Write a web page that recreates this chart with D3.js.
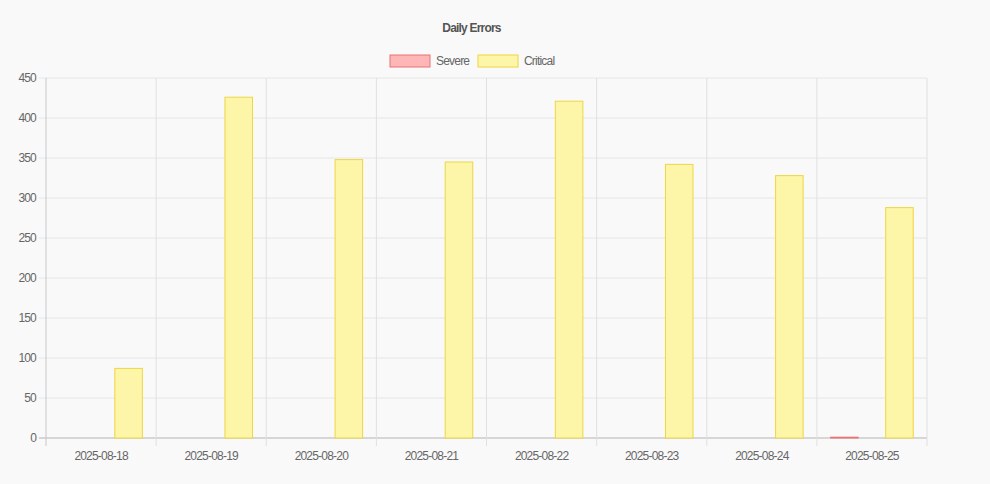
<!DOCTYPE html>
<html>
<head>
<meta charset="utf-8">
<script src="https://cdn.jsdelivr.net/npm/d3@7"></script>
<style>
  body { margin: 0; background: #f9f9f9; }
  svg { display: block; font-family: "Liberation Sans", Arial, sans-serif; }
  .tick text { fill: #666; font-size: 12px; letter-spacing: -0.8px; }
</style>
</head>
<body>
<div id="chart"></div>
<script>
// chart data
var dates = ["2025-08-18", "2025-08-19", "2025-08-20", "2025-08-21", "2025-08-22", "2025-08-23", "2025-08-24", "2025-08-25"];
var severe = [0, 0, 0, 0, 0, 0, 0, 1];
var critical = [87, 426, 348, 345, 421, 342, 328, 288];
var yTicks = [0, 50, 100, 150, 200, 250, 300, 350, 400, 450];

var seriesNames = ["Severe", "Critical"];
var seriesValues = [severe, critical];
var fills = ["#ffb6b6", "#fdf5a8"];
var strokes = ["#e87272", "#eed645"];

var width = 990, height = 484;
var margin = { left: 46, right: 63, top: 78, bottom: 46 };

var svg = d3.select("#chart").append("svg")
    .attr("width", width)
    .attr("height", height);

var xScale = d3.scaleBand()
    .domain(dates)
    .range([margin.left, width - margin.right])
    .paddingInner(0)
    .paddingOuter(0);

var xSeries = d3.scaleBand()
    .domain(seriesNames)
    .range([0, xScale.bandwidth()]);

var yScale = d3.scaleLinear()
    .domain([0, 450])
    .range([height - margin.bottom, margin.top]);

// horizontal grid
svg.append("g")
    .selectAll("line")
    .data(yTicks)
    .enter()
    .append("line")
    .attr("x1", margin.left - 7)
    .attr("x2", width - margin.right)
    .attr("y1", d => yScale(d))
    .attr("y2", d => yScale(d))
    .attr("stroke", d => d === 0 ? "#d6d6d6" : "#e6e6e6")
    .attr("stroke-width", d => d === 0 ? 2 : 1);

// vertical grid (category edges)
var edges = dates.map(d => xScale(d)).concat([width - margin.right]);
svg.append("g")
    .selectAll("line")
    .data(edges)
    .enter()
    .append("line")
    .attr("x1", d => d)
    .attr("x2", d => d)
    .attr("y1", margin.top)
    .attr("y2", height - margin.bottom + 8)
    .attr("stroke", (d, i) => i === 0 ? "#c8c8c8" : "#e0e0e0")
    .attr("stroke-width", 1);

// y axis labels
var yAxis = d3.axisLeft(yScale).tickValues(yTicks).tickSize(0).tickPadding(10);
svg.append("g")
    .attr("transform", "translate(" + margin.left + ",0)")
    .call(yAxis)
    .call(g => g.select(".domain").remove());

// x axis labels
var xAxis = d3.axisBottom(xScale).tickSize(0).tickPadding(13);
svg.append("g")
    .attr("transform", "translate(0," + (height - margin.bottom) + ")")
    .call(xAxis)
    .call(g => g.select(".domain").remove());

// bars
seriesNames.forEach(function(name, s) {
    svg.append("g")
        .selectAll("rect")
        .data(seriesValues[s])
        .enter()
        .append("rect")
        .attr("x", (d, i) => xScale(dates[i]) + xSeries(name) + xSeries.bandwidth() * 0.25)
        .attr("y", d => yScale(d))
        .attr("width", xSeries.bandwidth() * 0.5)
        .attr("height", d => yScale(0) - yScale(d))
        .attr("fill", fills[s])
        .attr("stroke", strokes[s])
        .attr("stroke-width", 1);
});

// title
svg.append("text")
    .attr("x", 471.5)
    .attr("y", 32)
    .attr("text-anchor", "middle")
    .attr("font-size", 12)
    .attr("font-weight", "bold")
    .attr("letter-spacing", "-0.8px")
    .attr("fill", "#555")
    .text("Daily Errors");

// legend
var legendX = [390, 478];
seriesNames.forEach(function(name, s) {
    svg.append("rect")
        .attr("x", legendX[s])
        .attr("y", 55)
        .attr("width", 40)
        .attr("height", 12)
        .attr("fill", fills[s])
        .attr("stroke", strokes[s])
        .attr("stroke-width", 1);
    svg.append("text")
        .attr("x", legendX[s] + 46)
        .attr("y", 65)
        .attr("font-size", 12)
        .attr("letter-spacing", "-0.8px")
        .attr("fill", "#666")
        .text(name);
});
</script>
</body>
</html>
